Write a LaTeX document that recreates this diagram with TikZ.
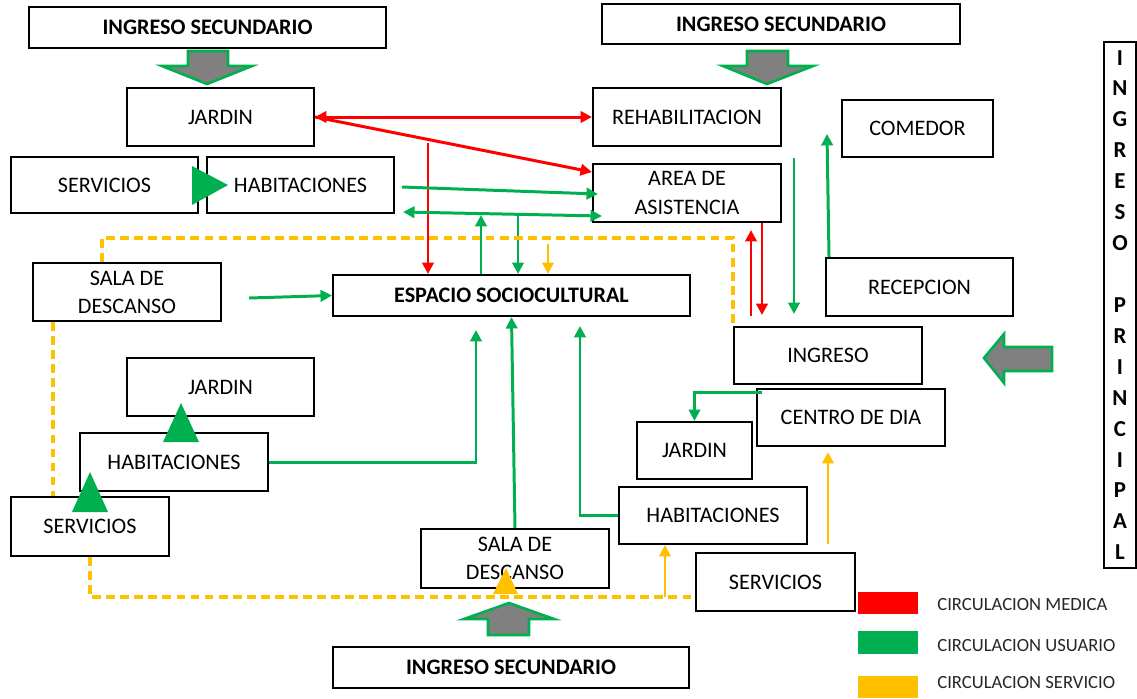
\documentclass[tikz,border=0pt]{standalone}
\usepackage{fontspec}
\setmainfont{Carlito}
\usetikzlibrary{arrows.meta}

\definecolor{medred}{RGB}{255,0,0}
\definecolor{usugreen}{RGB}{0,176,80}
\definecolor{serorange}{RGB}{255,192,0}

\tikzset{
	box/.style = {draw, fill = white, line width = 1.2pt, inner sep = 2pt, align = center,
		font = \fontsize{12.6}{16}\selectfont},
	boldbox/.style = {box, font = \fontsize{12.6}{16}\selectfont\bfseries},
	med/.style = {draw = medred, line width = 1.7pt, -{Triangle[length=6.5pt, width=6.5pt]}},
	usu/.style = {draw = usugreen, line width = 1.7pt, -{Triangle[length=6.5pt, width=6.5pt]}},
	ser/.style = {draw = serorange, line width = 1.7pt, -{Triangle[length=6.5pt, width=6.5pt]}},
	serdash/.style = {draw = serorange, line width = 1.8pt, dash pattern = on 5pt off 3pt},
	blockarrow/.style = {draw = usugreen, fill = gray, line width = 1.5pt, line join = miter},
	legtext/.style = {anchor = west, inner sep = 0, text = black!85, font = \fontsize{10.6}{12}\selectfont}
}

\begin{document}
\begin{tikzpicture}[x = 0.02cm, y = -0.02cm]
		\useasboundingbox (0, 0) rectangle (1137, 698);

		% entradas
		\node[boldbox, minimum width = 7.14cm, minimum height = 0.82cm] (isA) at (207.5, 27.5) {INGRESO SECUNDARIO};
		\node[boldbox, minimum width = 7.16cm, minimum height = 0.8cm] (isB) at (781, 24) {INGRESO SECUNDARIO};
		\node[boldbox, minimum width = 7.12cm, minimum height = 0.82cm] (isC) at (511, 667.5) {INGRESO SECUNDARIO};
		\node[box, minimum width = 0.64cm, minimum height = 10.52cm, inner sep = 0,
			font = \fontsize{13}{17.6}\selectfont\bfseries] (principal) at (1120, 305)
			{I\\N\\G\\R\\E\\S\\O\\~\\P\\R\\I\\N\\C\\I\\P\\A\\L};

		\draw[blockarrow] (188, 51) -- (228, 51) -- (228, 66) -- (252, 66) -- (207, 84) -- (162, 66) -- (188, 66) -- cycle;
		\draw[blockarrow] (747, 51) -- (788, 51) -- (788, 66) -- (813, 66) -- (767, 84) -- (723, 66) -- (747, 66) -- cycle;
		\draw[blockarrow] (488, 635) -- (529, 635) -- (529, 619) -- (554, 619) -- (509, 603) -- (464, 619) -- (488, 619) -- cycle;
		\draw[blockarrow] (1052, 347) -- (1052, 371) -- (1004, 371) -- (1004, 383) -- (984, 358) -- (1004, 334) -- (1004, 347) -- cycle;

		% bloque superior
		\node[box, minimum width = 3.74cm, minimum height = 1.16cm] (jardinA) at (220.5, 117) {JARDIN};
		\node[box, minimum width = 3.74cm, minimum height = 1.12cm] (servA) at (104.5, 185) {SERVICIOS};
		\node[box, minimum width = 3.74cm, minimum height = 1.12cm] (habA) at (300.5, 185) {HABITACIONES};
		\node[box, minimum width = 3.76cm, minimum height = 1.16cm] (rehab) at (687, 117) {REHABILITACION};
		\node[box, minimum width = 3.76cm, minimum height = 1.16cm] (area) at (687, 193) {AREA DE\\ASISTENCIA};
		\node[box, minimum width = 3.02cm, minimum height = 1.14cm] (comedor) at (917.5, 128.5) {COMEDOR};

		% centro
		\node[boldbox, minimum width = 7.14cm, minimum height = 0.82cm] (espacio) at (511.5, 295.5) {ESPACIO SOCIOCULTURAL};
		\node[box, minimum width = 3.76cm, minimum height = 1.16cm] (salaA) at (127, 292) {SALA DE\\DESCANSO};
		\node[box, minimum width = 3.74cm, minimum height = 1.16cm] (recepcion) at (919.5, 287) {RECEPCION};
		\node[box, minimum width = 3.76cm, minimum height = 1.14cm] (ingreso) at (828, 355.5) {INGRESO};

		% bloque inferior
		\node[box, minimum width = 3.74cm, minimum height = 1.16cm] (jardinB) at (220.5, 387) {JARDIN};
		\node[box, minimum width = 3.76cm, minimum height = 1.16cm] (habB) at (174, 462) {HABITACIONES};
		\node[box, minimum width = 3.16cm, minimum height = 1.18cm] (servB) at (90, 526.5) {SERVICIOS};
		\node[box, minimum width = 3.76cm, minimum height = 1.18cm] (salaB) at (515, 558.5) {SALA DE\\DESCANSO};
		\node[box, minimum width = 3.76cm, minimum height = 1.14cm] (centro) at (851, 417.5) {CENTRO DE DIA};
		\node[box, minimum width = 2.3cm, minimum height = 1.14cm] (jardinC) at (694.5, 450.5) {JARDIN};
		\node[box, minimum width = 3.76cm, minimum height = 1.14cm] (habC) at (713, 515.5) {HABITACIONES};
		\node[box, minimum width = 3.18cm, minimum height = 1.16cm] (servC) at (775.5, 582) {SERVICIOS};

		% puntos sueltos
		\coordinate (rA) at (428, 143);
		\coordinate (rB) at (751, 316);
		\coordinate (rC) at (762, 315);
		\coordinate (gB) at (481, 215);
		\coordinate (gC) at (518, 214);
		\coordinate (gD) at (476, 330);
		\coordinate (gE) at (580, 326);
		\coordinate (gF) at (794, 158);
		\coordinate (gH) at (827, 134);
		\coordinate (yA) at (0, 238);
		\coordinate (yB) at (53, 0);
		\coordinate (yC) at (0, 597);
		\coordinate (yD) at (548, 244);
		\coordinate (yE) at (665, 545);
		\coordinate (yF) at (828, 544);

		% circulacion medica
		\draw[med, {Triangle[length=6.5pt, width=6.5pt]}-{Triangle[length=6.5pt, width=6.5pt]}] (jardinA.east) -- (rehab.west);
		\draw[med] (jardinA.east) -- ([yshift=0.42cm]area.west);
		\draw[med] (rA) -- (rA |- espacio.north);
		\draw[med, shorten >= 0.14cm] (rB) -- (rB |- area.south);
		\draw[med] (rC |- area.south) -- (rC);

		% circulacion usuario
		\draw[usu] ([xshift=0.14cm, yshift=-0.04cm]habA.east) -- ([xshift=0.12cm, yshift=-0.02cm]area.west);
		\draw[usu, {Triangle[length=6.5pt, width=6.5pt]}-{Triangle[length=6.5pt, width=6.5pt]}]
			([xshift=0.16cm, yshift=-0.54cm]habA.east) -- ([xshift=0.2cm, yshift=-0.46cm]area.west);
		\draw[usu] (gB |- espacio.north) -- (gB);
		\draw[usu] (gC) -- (gC |- espacio.north);
		\draw[usu] ([xshift=0.54cm, yshift=-0.12cm]salaA.east) -- (espacio.west);
		\draw[usu] (habB.east) -| (gD);
		\draw[usu] (salaB.north) -- (espacio.south);
		\draw[usu] (habC.west) -| (gE);
		\draw[usu, shorten >= 0.24cm] (gF) -- (gF |- ingreso.north);
		\draw[usu] ([xshift=-1.81cm]recepcion.north) -- (gH);
		\draw[usu] ([xshift=-1.32cm, yshift=-0.14cm]ingreso.south) -| (jardinC.north);

		% circulacion servicio
		\draw[serdash] ([xshift=-0.5cm]salaA.north) |- (ingreso.north west |- yA) -- (ingreso.north west);
		\draw[serdash] (yB |- salaA.south) -- (yB |- servB.north);
		\draw[serdash] (servB.south) |- (servC.west |- yC);
		\draw[ser] (yD) -- (yD |- espacio.north);
		\draw[ser] (yE |- yC) -- (yE);
		\draw[ser, shorten >= 0.1cm] (yF) -- (yF |- centro.south);

		% triangulos
		\fill[usugreen] (192, 166) -- (228, 185) -- (192, 205) -- cycle;
		\fill[usugreen] (181, 403) -- (199, 442) -- (163, 442) -- cycle;
		\fill[usugreen] (90, 472) -- (108, 512) -- (72, 512) -- cycle;
		\fill[serorange] (506, 568) -- (518, 594) -- (493, 594) -- cycle;

		% leyenda
		\node[fill = medred, minimum width = 1.2cm, minimum height = 0.44cm, inner sep = 0] (legMed) at (888, 603) {};
		\node[fill = usugreen, minimum width = 1.2cm, minimum height = 0.46cm, inner sep = 0] (legUsu) at (888, 642.5) {};
		\node[fill = serorange, minimum width = 1.2cm, minimum height = 0.44cm, inner sep = 0] (legSer) at (888, 687) {};
		\node[legtext] (txtMed) at (937, 605) {CIRCULACION MEDICA};
		\node[legtext] (txtUsu) at (937, 646) {CIRCULACION USUARIO};
		\node[legtext] (txtSer) at (937, 683) {CIRCULACION SERVICIO};

		\end{tikzpicture}
\end{document}
